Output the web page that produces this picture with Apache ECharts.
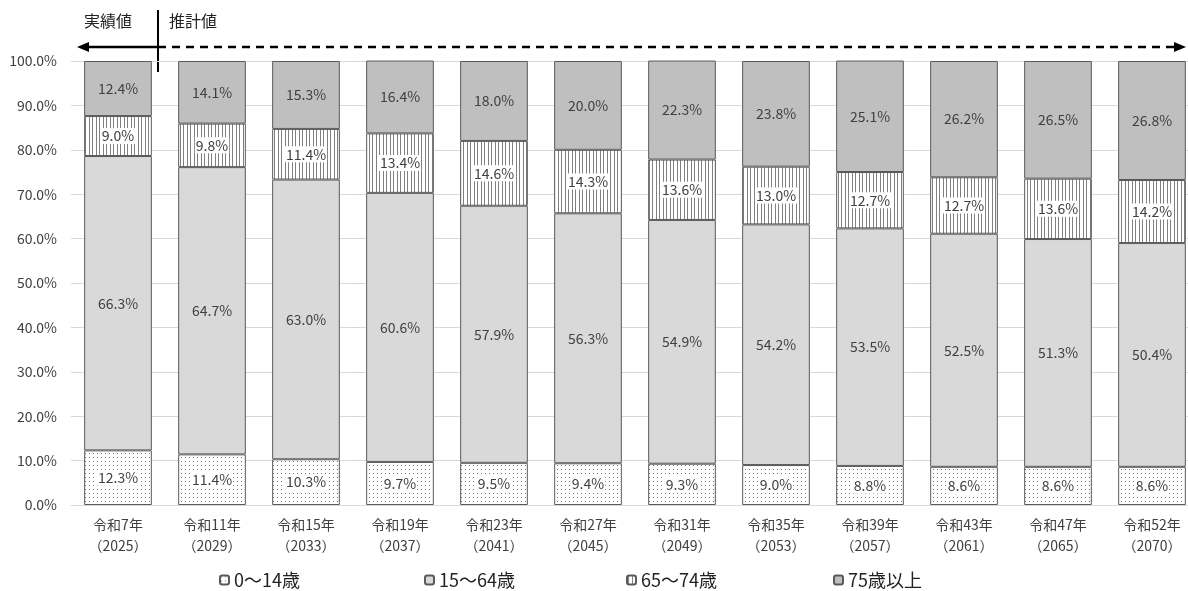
<!DOCTYPE html>
<html><head><meta charset="utf-8">
<script src="https://cdn.jsdelivr.net/npm/echarts@6/dist/echarts.min.js"></script>
<style>html,body{margin:0;padding:0;background:#fff}#c{width:1188px;height:591px}</style>
</head><body><div id="c"></div>
<script>
const categories = ['令和7年\n（2025）','令和11年\n（2029）','令和15年\n（2033）','令和19年\n（2037）','令和23年\n（2041）','令和27年\n（2045）','令和31年\n（2049）','令和35年\n（2053）','令和39年\n（2057）','令和43年\n（2061）','令和47年\n（2065）','令和52年\n（2070）'];
const age0_14  = [12.3, 11.4, 10.3, 9.7, 9.5, 9.4, 9.3, 9.0, 8.8, 8.6, 8.6, 8.6];
const age15_64 = [66.3, 64.7, 63.0, 60.6, 57.9, 56.3, 54.9, 54.2, 53.5, 52.5, 51.3, 50.4];
const age65_74 = [9.0, 9.8, 11.4, 13.4, 14.6, 14.3, 13.6, 13.0, 12.7, 12.7, 13.6, 14.2];
const age75up  = [12.4, 14.1, 15.3, 16.4, 18.0, 20.0, 22.3, 23.8, 25.1, 26.2, 26.5, 26.8];
const seriesNames = ['0～14歳','15～64歳','65～74歳','75歳以上'];
const yTicks = [0,10,20,30,40,50,60,70,80,90,100];

const FONT = '"Noto Sans CJK JP", "Noto Sans", sans-serif';
const TXT = '#404040';

function dotPattern(){
  const c = document.createElement('canvas'); c.width = 4; c.height = 4;
  const g = c.getContext('2d');
  g.fillStyle = '#fff'; g.fillRect(0,0,4,4);
  g.fillStyle = '#777'; g.fillRect(1,1,1,1);
  return {image: c, repeat: 'repeat'};
}
function stripePattern(){
  const c = document.createElement('canvas'); c.width = 7; c.height = 4;
  const g = c.getContext('2d');
  g.fillStyle = '#fff'; g.fillRect(0,0,7,4);
  g.fillStyle = '#808080'; g.fillRect(1,0,1,4); g.fillRect(5,0,1,4);
  return {image: c, repeat: 'repeat'};
}

const chart = echarts.init(document.getElementById('c'), null, {renderer:'canvas'});
const fmt = p => p.value.toFixed(1) + '%';
function mk(name, data, color, whiteBg){
  return {
    name, type:'bar', stack:'total', data, barWidth:'72%',
    itemStyle:{color, borderColor:'#5a5a5a', borderWidth:1},
    label:{show:true, position:'inside', formatter:fmt, color:TXT, fontSize:14, fontFamily:FONT,
      backgroundColor: whiteBg ? '#fff' : 'transparent', padding: whiteBg ? [1,1] : 0},
    emphasis:{disabled:true}
  };
}
const legendLefts = [214, 419, 621, 828];
const option = {
  animation:false,
  textStyle:{fontFamily:FONT},
  grid:{left:71, top:61, width:1128, height:444, containLabel:false, outerBoundsMode:'none'},
  xAxis:{type:'category', data:categories,
    axisLine:{show:true, lineStyle:{color:'#d9d9d9'}}, axisTick:{show:false},
    axisLabel:{color:TXT, fontSize:14, fontFamily:FONT, lineHeight:21, margin:9}},
  yAxis:{type:'value', min:0, max:100, interval:10,
    axisLine:{show:false}, axisTick:{show:false},
    splitLine:{lineStyle:{color:'#d9d9d9'}},
    axisLabel:{color:TXT, fontSize:14, fontFamily:FONT, margin:14, formatter:v=>v.toFixed(1)+'%'}},
  legend: seriesNames.map((n,i)=>({data:[n], left:legendLefts[i], top:566, itemWidth:9, itemHeight:9, itemGap:4,
    textStyle:{fontSize:18, color:'#222', fontFamily:FONT}, selectedMode:false})),
  series:[
    mk(seriesNames[0], age0_14, dotPattern(), true),
    mk(seriesNames[1], age15_64, '#d9d9d9', false),
    mk(seriesNames[2], age65_74, stripePattern(), true),
    mk(seriesNames[3], age75up, '#bfbfbf', false)
  ],
  graphic:[
    {type:'line', shape:{x1:158,y1:47,x2:86,y2:47}, style:{stroke:'#000', lineWidth:2.5}},
    {type:'polygon', shape:{points:[[77,47],[89,42],[89,52]]}, style:{fill:'#000'}},
    {type:'line', shape:{x1:158,y1:47,x2:1176,y2:47}, style:{stroke:'#000', lineWidth:2.5, lineDash:[8,6]}},
    {type:'polygon', shape:{points:[[1186,47],[1174,42],[1174,52]]}, style:{fill:'#000'}},
    {type:'line', shape:{x1:158,y1:10,x2:158,y2:72}, style:{stroke:'#000', lineWidth:2}},
    {type:'text', left:84, top:13, style:{text:'実績値', fontSize:16, fill:'#222', fontFamily:FONT}},
    {type:'text', left:169, top:13, style:{text:'推計値', fontSize:16, fill:'#222', fontFamily:FONT}}
  ]
};
chart.setOption(option);
</script></body></html>
